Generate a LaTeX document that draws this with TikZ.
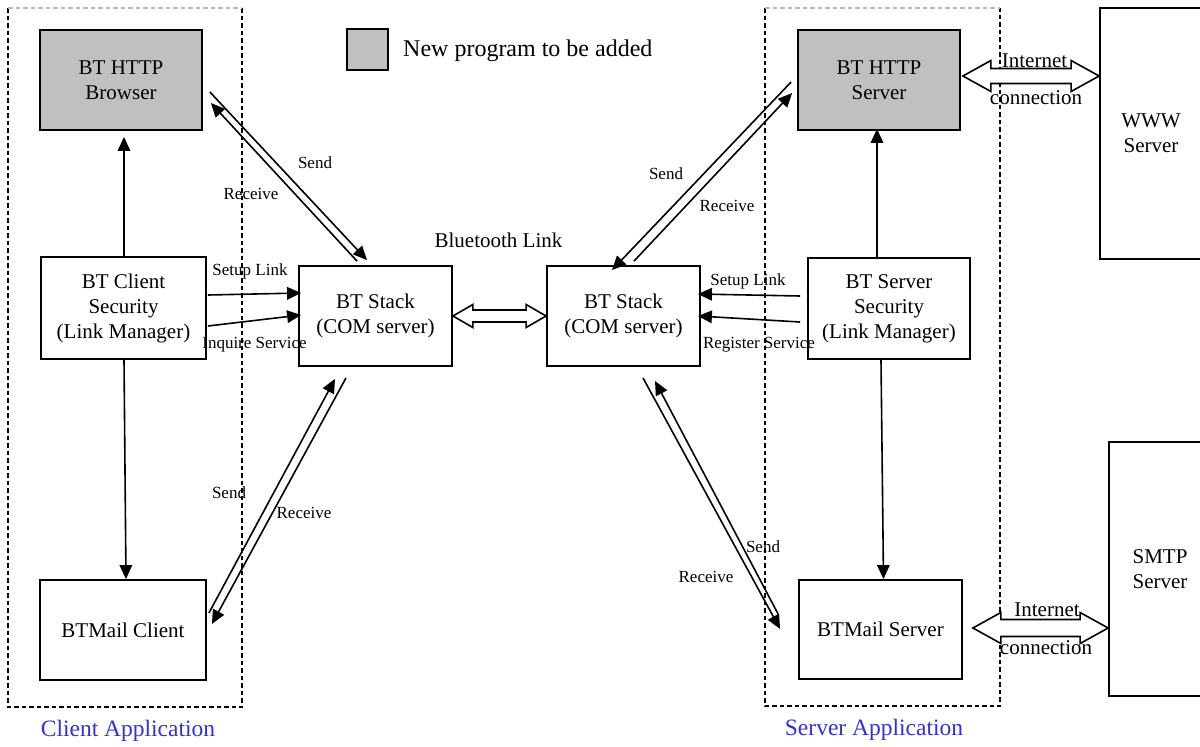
\documentclass[tikz,border=0pt]{standalone}
\usepackage{fontspec}
\setmainfont{Liberation Serif}
\usetikzlibrary{arrows.meta,calc}
\definecolor{newprog}{RGB}{192,192,192}
\definecolor{applabel}{RGB}{51,51,204}
\begin{document}
\begin{tikzpicture}[x=1pt,y=-1pt,
  box/.style={draw,line width=1.8pt,inner sep=0pt,align=center,
              font=\fontsize{21}{25}\selectfont},
  newbox/.style={box,fill=newprog},
  link/.style={line width=1.6pt,-{Triangle[length=14pt,width=12.5pt]}},
  hollow/.style={draw,line width=1.6pt,fill=white,line join=miter},
  small/.style={font=\fontsize{17}{19}\selectfont,inner sep=0pt},
  txt/.style={font=\fontsize{21}{24}\selectfont,inner sep=0pt},
  group/.style={line width=1.2pt,dash pattern=on 4.5pt off 3pt},
  applbl/.style={font=\fontsize{23.5}{26}\selectfont,text=applabel,inner sep=0pt}]
\useasboundingbox (0,0) rectangle (1200,747);

% application groups
\draw[group] (8,8) -- (8,707) -- (242,707) -- (242,8);
\draw[group,gray!55] (8,8) -- (242,8);
\draw[group] (765,8) -- (765,706) -- (1000,706) -- (1000,8);
\draw[group,gray!55] (765,8) -- (1000,8);

% legend
\node[newbox,minimum width=41pt,minimum height=41pt] (legend) at (367.5,49.5) {};
\node[font=\fontsize{24}{26}\selectfont,inner sep=0pt,anchor=west] (legendtxt) at (403,51) {New program to be added};

% client side
\node[newbox,minimum width=162pt,minimum height=100pt] (browser) at (121,80) {BT HTTP\\Browser};
\node[box,minimum width=165pt,minimum height=102pt] (clientsec) at (123.5,308) {BT Client\\Security\\(Link Manager)};
\node[box,minimum width=166pt,minimum height=100pt] (mailclient) at (123,630) {BTMail Client};

% stacks
\node[box,minimum width=153pt,minimum height=100pt] (stackL) at (375.5,316) {BT Stack\\(COM server)};
\node[box,minimum width=153pt,minimum height=100pt] (stackR) at (623.5,316) {BT Stack\\(COM server)};

% server side
\node[newbox,minimum width=162pt,minimum height=100pt] (httpserver) at (879,80) {BT HTTP\\Server};
\node[box,minimum width=162pt,minimum height=101pt] (serversec) at (889,308.5) {BT Server\\Security\\(Link Manager)};
\node[box,minimum width=163pt,minimum height=99pt] (mailserver) at (880.5,629.5) {BTMail Server};

% external servers
\node[box,minimum width=102pt,minimum height=251pt] (www) at (1151,133.5) {WWW\\Server};
\node[box,minimum width=102pt,minimum height=254pt] (smtp) at (1160,569) {SMTP\\Server};

% local links inside the applications
\draw[link] ($(clientsec.north)+(0.5,0)$) -- ($(clientsec.north |- browser.south)+(0.5,6)$);
\draw[link] ($(clientsec.south)+(0.5,0)$) -- ($(mailclient.north)+(3,0)$);
\draw[link] ($(serversec.north)+(-12,0)$) -- ($(httpserver.south)+(-2,-2)$);
\draw[link] ($(serversec.south)+(-8,0)$) -- ($(mailserver.north)+(3,0)$);

% link manager requests
\draw[link] ($(clientsec.east)+(1,-13)$) -- ($(stackL.west)+(3,-23)$);
\draw[link] ($(clientsec.east)+(1,18)$) -- ($(stackL.west)+(3,-1)$);
\draw[link] ($(serversec.west)+(-7,-12.5)$) -- ($(stackR.east)+(-3,-22)$);
\draw[link] ($(serversec.west)+(-7,13.5)$) -- ($(stackR.east)+(-3,0)$);
\node[small] (lsetup) at (250,271) {Setup Link};
\node[small] (linq) at (254.5,345) {Inquire Service};
\node[small] (rsetup) at (748,281) {Setup Link};
\node[small] (rreg) at (759,345) {Register Service};

% send / receive pairs
\draw[link] ($(browser.east)+(7,12)$) -- ($(stackL.north)+(-8.5,-5)$);
\draw[link] ($(stackL.north)+(-18.5,-4)$) -- ($(browser.east)+(8,23)$);
\node[small] (s1) at (315,163) {Send};
\node[small] (r1) at (251,194) {Receive};

\draw[link] ($(httpserver.west)+(-6,2)$) -- ($(stackR.north)+(-11.5,5)$);
\draw[link] ($(stackR.north)+(10.5,-4)$) -- ($(httpserver.west)+(-5,13)$);
\node[small] (s2) at (666,174) {Send};
\node[small] (r2) at (727,206) {Receive};

\draw[link] ($(mailclient.east)+(2,-17)$) -- ($(stackL.south)+(-40.5,12)$);
\draw[link] ($(stackL.south)+(-29.5,11)$) -- ($(mailclient.east)+(5,-6)$);
\node[small] (s3) at (229,493) {Send};
\node[small] (r3) at (304,513) {Receive};

\draw[link] ($(stackR.south)+(19.5,11)$) -- ($(mailserver.west)+(-18,-0.5)$);
\draw[link] ($(mailserver.west)+(-20,-15.5)$) -- ($(stackR.south)+(31.5,14)$);
\node[small] (s4) at (763,547) {Send};
\node[small] (r4) at (706,577) {Receive};

% bluetooth link
\draw[hollow] (stackL.east) -- ++(20,-11.5) -- ++(0,5.5) -- ($(stackR.west)+(-20,-6)$)
  -- ++(0,-5.5) -- (stackR.west) -- ++(-20,11.5) -- ++(0,-5.5)
  -- ($(stackL.east)+(20,6)$) -- ++(0,5.5) -- cycle;
\node[txt] (bt) at (498.5,240) {Bluetooth Link};

% internet connections
\coordinate (ia) at ($(httpserver.east)+(2,-4)$);
\coordinate (ib) at (ia -| www.west);
\draw[hollow] (ia) -- ++(28,-15.5) -- ++(0,8) -- ($(ib)+(-28,-7.5)$) -- ++(0,-8) -- (ib)
  -- ++(-28,15.5) -- ++(0,-8) -- ($(ia)+(28,7.5)$) -- ++(0,8) -- cycle;
\node[txt] (inet1) at (1034.5,61) {Internet};
\node[txt] (conn1) at (1036,98) {connection};

\coordinate (ic) at ($(mailserver.east)+(10,-1.5)$);
\coordinate (id) at (ic -| smtp.west);
\draw[hollow] (ic) -- ++(28,-15.5) -- ++(0,7) -- ($(id)+(-28,-8.5)$) -- ++(0,-7) -- (id)
  -- ++(-28,15.5) -- ++(0,-7) -- ($(ic)+(28,8.5)$) -- ++(0,7) -- cycle;
\node[txt] (inet2) at (1047,610) {Internet};
\node[txt] (conn2) at (1046,648) {connection};

% application captions
\node[applbl] (clientapp) at (128,731) {Client Application};
\node[applbl] (serverapp) at (874,730) {Server Application};
\end{tikzpicture}
\end{document}
